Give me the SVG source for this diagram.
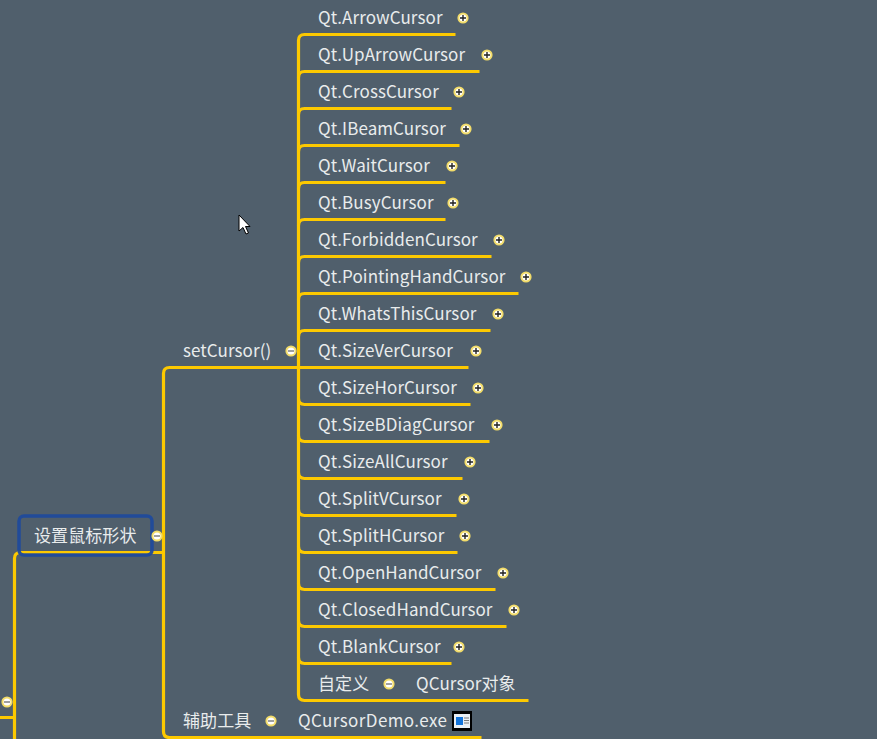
<svg xmlns="http://www.w3.org/2000/svg" width="877" height="739" viewBox="0 0 877 739">
<style>
.t{font-family:"Noto Sans CJK SC","Noto Sans",sans-serif;font-size:17px;letter-spacing:.08px;fill:#e9ecec}
.l{fill:none;stroke:#fdc900;stroke-width:3.2}
.r{fill:#fff;stroke:#f2dc6a;stroke-width:2}
.g{stroke:#222;stroke-width:1.4}
</style>
<defs>
<g id="plus"><circle class="r" r="4.6"/><path class="g" d="M-3 0H3M0-3V3"/></g>
<g id="minus"><circle class="r" r="4.6"/><path class="g" style="stroke:#777" d="M-3 0H3"/></g>
</defs>
<rect width="877" height="739" fill="#505f6c"/>
<g id="connectors" transform="translate(-0.5 0.5)">
<path class="l" d="M456 34H305Q299 34 299 40V694Q299 700 305 700H529"/>
<path class="l" d="M480 71H305Q299 71 299 77M452 108H305Q299 108 299 114M460 145H305Q299 145 299 151M446 182H305Q299 182 299 188M446 219H305Q299 219 299 225M492 256H305Q299 256 299 262M519 293H305Q299 293 299 299M491 330H305Q299 330 299 336M469 367H299M471 404H305Q299 404 299 398M490 441H305Q299 441 299 435M463 478H305Q299 478 299 472M457 515H305Q299 515 299 509M458 552H305Q299 552 299 546M496 589H305Q299 589 299 583M507 626H305Q299 626 299 620M452 663H305Q299 663 299 657"/>
<path class="l" d="M299 367H170Q164 367 164 373V731Q164 737 170 737H482"/>
<path class="l" d="M164 552H21Q15 552 15 558V739M0 717H15"/>
</g>
<g id="n-root"><use href="#minus" x="7" y="702"/></g>
<g id="n-shape">
<text class="t" x="34" y="542">设置鼠标形状</text>
<rect x="19" y="516" width="133" height="39" rx="5" fill="none" stroke="#1f4a9c" stroke-width="3.5" opacity=".95"/>
<use href="#minus" x="157" y="536"/>
</g>
<g id="n-setcursor"><text class="t" x="183" y="357">setCursor()</text><use href="#minus" x="291" y="351"/></g>
<g id="n-tool"><text class="t" x="183" y="727">辅助工具</text><use href="#minus" x="271" y="721"/></g>
<g id="n-demo"><text class="t" x="298" y="727" textLength="149">QCursorDemo.exe</text>
<rect x="452" y="711" width="20" height="20" fill="#000"/><rect x="454" y="714" width="16" height="14" fill="#e8eef4"/><rect x="456" y="717" width="7" height="8" fill="#1272d8"/><path d="M464 718H469M464 720.5H469M464 723H469" stroke="#777"/></g>
<g id="n1"><text class="t" x="318" y="24">Qt.ArrowCursor</text><use href="#plus" x="463" y="18"/></g>
<g id="n2"><text class="t" x="318" y="61">Qt.UpArrowCursor</text><use href="#plus" x="487" y="55"/></g>
<g id="n3"><text class="t" x="318" y="98">Qt.CrossCursor</text><use href="#plus" x="459" y="92"/></g>
<g id="n4"><text class="t" x="318" y="135">Qt.IBeamCursor</text><use href="#plus" x="466" y="129"/></g>
<g id="n5"><text class="t" x="318" y="172">Qt.WaitCursor</text><use href="#plus" x="452" y="166"/></g>
<g id="n6"><text class="t" x="318" y="209">Qt.BusyCursor</text><use href="#plus" x="453" y="203"/></g>
<g id="n7"><text class="t" x="318" y="246">Qt.ForbiddenCursor</text><use href="#plus" x="499" y="240"/></g>
<g id="n8"><text class="t" x="318" y="283">Qt.PointingHandCursor</text><use href="#plus" x="526" y="277"/></g>
<g id="n9"><text class="t" x="318" y="320">Qt.WhatsThisCursor</text><use href="#plus" x="498" y="314"/></g>
<g id="n10"><text class="t" x="318" y="357">Qt.SizeVerCursor</text><use href="#plus" x="476" y="351"/></g>
<g id="n11"><text class="t" x="318" y="394">Qt.SizeHorCursor</text><use href="#plus" x="478" y="388"/></g>
<g id="n12"><text class="t" x="318" y="431">Qt.SizeBDiagCursor</text><use href="#plus" x="497" y="425"/></g>
<g id="n13"><text class="t" x="318" y="468">Qt.SizeAllCursor</text><use href="#plus" x="470" y="462"/></g>
<g id="n14"><text class="t" x="318" y="505">Qt.SplitVCursor</text><use href="#plus" x="464" y="499"/></g>
<g id="n15"><text class="t" x="318" y="542">Qt.SplitHCursor</text><use href="#plus" x="465" y="536"/></g>
<g id="n16"><text class="t" x="318" y="579">Qt.OpenHandCursor</text><use href="#plus" x="503" y="573"/></g>
<g id="n17"><text class="t" x="318" y="616">Qt.ClosedHandCursor</text><use href="#plus" x="514" y="610"/></g>
<g id="n18"><text class="t" x="318" y="653">Qt.BlankCursor</text><use href="#plus" x="459" y="647"/></g>
<g id="n19"><text class="t" x="318" y="690">自定义</text><use href="#minus" x="389" y="684"/></g>
<g id="n20"><text class="t" x="416" y="690">QCursor对象</text></g>
<path id="pointer" d="M239 215V231L243 227.5L246 234L248.5 233L245.5 226.5H250Z" fill="#fff" stroke="#000"/>
</svg>
